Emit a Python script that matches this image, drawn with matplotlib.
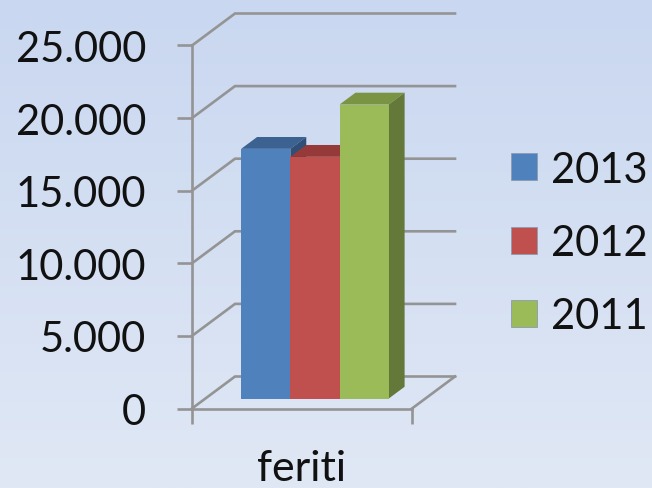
import matplotlib
matplotlib.use("Agg")
import matplotlib.pyplot as plt
import numpy as np
from matplotlib.patches import Patch

plt.rcParams["font.family"] = ["Lato", "DejaVu Sans"]

category = "feriti"
years = ["2013", "2012", "2011"]
values = [17200, 16650, 20250]
front_colors = ["#4f81bd", "#c0504d", "#9bbb59"]
top_colors = ["#3b6291", "#953a38", "#7a9443"]
side_colors = ["#2f4f78", "#7a2f2d", "#64783a"]
y_ticks = [0, 5000, 10000, 15000, 20000, 25000]
y_labels = ["0", "5.000", "10.000", "15.000", "20.000", "25.000"]

W, H = 652, 489
GRAY = "#949494"
INK = "#111111"

fig = plt.figure(figsize=(W / 100, H / 100), dpi=100)

bg = fig.add_axes([0, 0, 1, 1], zorder=0)
bg.imshow(np.linspace(0, 1, 256).reshape(-1, 1), aspect="auto", extent=(0, 1, 0, 1),
          cmap=matplotlib.colors.LinearSegmentedColormap.from_list("bg", ["#c9d7f0", "#e0e8f5"]))
bg.axis("off")

# front plane of the fake 3d box, pixels converted to figure fractions
left, right, top, bottom = 192, 412, 46.5, 409.5
ax = fig.add_axes([left / W, 1 - bottom / H, (right - left) / W, (bottom - top) / H], zorder=1)
ax.patch.set_alpha(0)
ax.set_xlim(0, 1)
ax.set_ylim(0, 25000)

# how far full depth shifts things, in data units
depth_x = 43 / (right - left)
depth_y = 32 / (bottom - top) * 25000


def shift(x, y, d):
    return x + d * depth_x, y + d * depth_y


for tick in y_ticks:
    p0 = shift(0, tick, 0)
    p1 = shift(0, tick, 1)
    p2 = shift(1, tick, 1)
    ax.plot([p0[0], p1[0], p2[0]], [p0[1], p1[1], p2[1]], color=GRAY, lw=1.9,
            clip_on=False, zorder=1, solid_joinstyle="miter")
p0 = shift(1, 0, 0)
p1 = shift(1, 0, 1)
ax.plot([p0[0], p1[0]], [p0[1], p1[1]], color=GRAY, lw=1.9, clip_on=False, zorder=1)

bar_w = 0.2235
bar_x0 = 0.163
d0 = 0.31
d1 = d0 + 0.37
for i, val in enumerate(values):
    x0 = bar_x0 + i * bar_w
    x1 = x0 + bar_w
    a = shift(x0, val, d0)
    b = shift(x1, val, d0)
    c = shift(x1, val, d1)
    d = shift(x0, val, d1)
    e = shift(x1, 0, d0)
    f = shift(x1, 0, d1)
    ax.fill([a[0], b[0], c[0], d[0]], [a[1], b[1], c[1], d[1]], color=top_colors[i],
            lw=0, clip_on=False, zorder=2 + i)
    ax.fill([b[0], c[0], f[0], e[0]], [b[1], c[1], f[1], e[1]], color=side_colors[i],
            lw=0, clip_on=False, zorder=2 + i)
    ax.bar(a[0], val, width=bar_w, bottom=d0 * depth_y, align="edge", color=front_colors[i],
           lw=0, clip_on=False, zorder=2.5 + i)

for name in ["top", "right"]:
    ax.spines[name].set_visible(False)
for name in ["left", "bottom"]:
    ax.spines[name].set_color(GRAY)
    ax.spines[name].set_linewidth(1.9)
    ax.spines[name].set_zorder(1)

ax.set_yticks(y_ticks)
ax.set_yticklabels(y_labels, fontsize=30, color=INK)
ax.tick_params(axis="y", length=11, width=1.9, color=GRAY, pad=22)
ax.set_xticks([0, 1])
ax.set_xticklabels([])
ax.tick_params(axis="x", length=11, width=1.9, color=GRAY)
ax.set_xticks([0.5], minor=True)
ax.set_xticklabels([category], minor=True, fontsize=31, color=INK)
ax.tick_params(axis="x", which="minor", length=0, pad=29)

handles = [Patch(facecolor=c, edgecolor="#8c9bb0", lw=0.6) for c in front_colors]
ax.legend(handles, years, loc="center left", bbox_to_anchor=(511 / W, 1 - 244 / H),
          bbox_transform=fig.transFigure, frameon=False, fontsize=30, handlelength=0.62,
          handleheight=0.62, handletextpad=0.33, labelspacing=0.85, borderpad=0, borderaxespad=0,
          labelcolor=INK)

fig.savefig("out.png", dpi=100)
